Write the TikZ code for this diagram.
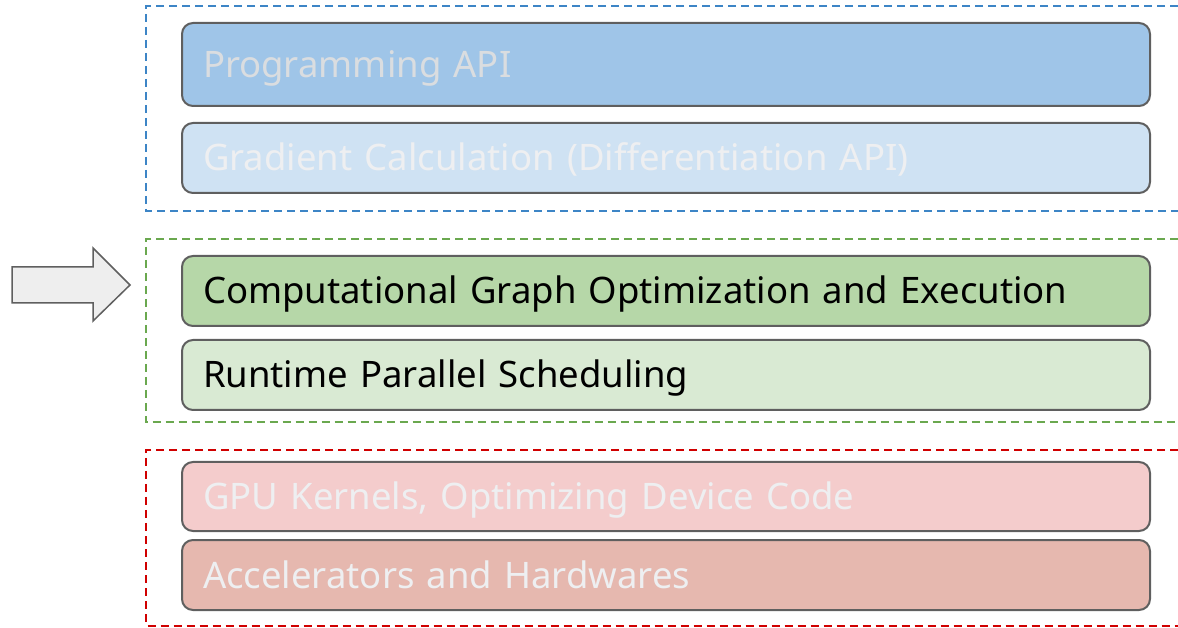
\documentclass[tikz,border=0pt]{standalone}
\usepackage{fontspec}
\setmainfont{Noto Sans}
\definecolor{cP}{HTML}{9FC5E8}
\definecolor{cG}{HTML}{CFE2F3}
\definecolor{cC}{HTML}{B6D7A8}
\definecolor{cR}{HTML}{D9EAD3}
\definecolor{cK}{HTML}{F4CCCC}
\definecolor{cA}{HTML}{E6B8AF}
\definecolor{bord}{HTML}{5F5F5F}
\definecolor{dblue}{HTML}{3D85C6}
\definecolor{dgreen}{HTML}{6AA84F}
\definecolor{dred}{HTML}{D00000}
\definecolor{ghostA}{HTML}{DADDE0}
\definecolor{ghostB}{HTML}{EEEFF1}
\definecolor{arrfill}{HTML}{EEEEEE}
\tikzset{
  layer/.style={draw=bord, line width=2pt, rounded corners=11pt, minimum width=968pt,
    text width=926pt, inner xsep=21pt, inner ysep=0pt, align=left,
    font=\fontsize{36.5}{44}\selectfont, text height=34pt, text depth=8pt},
  group/.style={line width=2pt, dash pattern=on 8pt off 5pt},
}
\begin{document}
\begin{tikzpicture}[x=1pt,y=1pt]
\useasboundingbox (0,0) rectangle (1178,627);
% dashed groups (open on the right)
\draw[group, draw=dblue] (1178,621) -- (146,621) -- (146,416) -- (1178,416);
\draw[group, draw=dgreen] (1178,388) -- (146,388) -- (146,204.5) -- (1178,204.5);
\draw[group, draw=dred] (1178,177) -- (146,177) -- (146,1.5) -- (1178,1.5);
% layers
\node[layer, fill=cP, text=ghostA, minimum height=83pt] (p) at (666,562.5) {Programming API};
\node[layer, fill=cG, text=ghostB, minimum height=70pt] (g) at (666,469) {Gradient Calculation (Differentiation API)};
\node[layer, fill=cC, text=black, minimum height=70pt] (c) at (666,336) {Computational Graph Optimization and Execution};
\node[layer, fill=cR, text=black, minimum height=70pt] (r) at (666,252) {Runtime Parallel Scheduling};
\node[layer, fill=cK, text=ghostB, minimum height=69pt] (k) at (666,130.5) {GPU Kernels, Optimizing Device Code};
\node[layer, fill=cA, text=ghostB, minimum height=70pt] (a) at (666,52) {Accelerators and Hardwares};
% pointer arrow
\draw[draw=bord, fill=arrfill, line width=1.5pt, line join=miter]
  (12,360) -- (93,360) -- (93,379) -- (130,342) -- (93,306) -- (93,324) -- (12,324) -- cycle;
\end{tikzpicture}
\end{document}
